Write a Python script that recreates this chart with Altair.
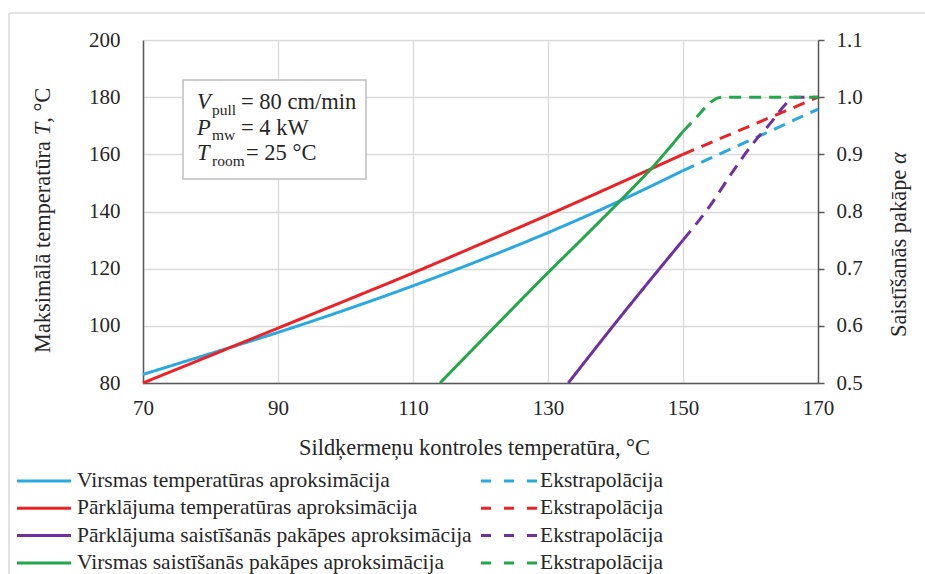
import altair as alt
import pandas as pd

FONT = "Liberation Serif"
TXT = "#262626"
AX = "#595959"
GRID = "#d9d9d9"

x_ticks = [70, 90, 110, 130, 150, 170]
temp_ticks = [80, 100, 120, 140, 160, 180, 200]
alpha_ticks = [0.5, 0.6, 0.7, 0.8, 0.9, 1.0, 1.1]

series_names = [
    "Virsmas temperatūras aproksimācija",
    "Pārklājuma temperatūras aproksimācija",
    "Pārklājuma saistīšanās pakāpes aproksimācija",
    "Virsmas saistīšanās pakāpes aproksimācija",
]
series_colors = ["#29a9e1", "#ec2227", "#7030a0", "#22a84b"]
extrap_label = "Ekstrapolācija"

# Surface temperature (left axis)
blue_solid_x = [70, 80, 90, 100, 110, 120, 130, 140, 150]
blue_solid_y = [83, 90.3, 97.7, 105.6, 114, 123, 132.6, 143, 154.3]
blue_dash_x = [150, 160, 170]
blue_dash_y = [154.3, 165, 175.8]
# Coating temperature (left axis)
red_solid_x = [70, 80, 90, 100, 110, 120, 130, 140, 150]
red_solid_y = [80, 89.6, 99.2, 108.8, 118.5, 128.6, 138.8, 149.3, 160]
red_dash_x = [150, 160, 170]
red_dash_y = [160, 170, 180]
# Coating degree of cure (right axis)
purple_solid_x = [133, 140, 150]
purple_solid_y = [0.5, 0.605, 0.75]
purple_dash_x = [150, 154, 157.5, 160.5, 163, 165, 166.5, 170]
purple_dash_y = [0.75, 0.81, 0.872, 0.921, 0.955, 0.985, 1.0, 1.0]
# Surface degree of cure (right axis)
green_solid_x = [114, 122, 130, 136, 141.3, 145.6, 150]
green_solid_y = [0.5, 0.597, 0.693, 0.763, 0.826, 0.879, 0.94]
green_dash_x = [150, 152, 154, 155, 156, 170]
green_dash_y = [0.94, 0.965, 0.99, 0.998, 1.0, 1.0]

left_title_parts = ["Maksimālā temperatūra", "T", ", °C"]
right_title_parts = ["Saistīšanās pakāpe", "α"]
x_title = "Sildķermeņu kontroles temperatūra, °C"


def frame(name, part, xs, ys):
    return pd.DataFrame({"x": xs, "y": ys, "series": name, "part": part,
                         "key": name + part})


temp_df = pd.concat([
    frame(series_names[0], "solid", blue_solid_x, blue_solid_y),
    frame(series_names[0], "dash", blue_dash_x, blue_dash_y),
    frame(series_names[1], "solid", red_solid_x, red_solid_y),
    frame(series_names[1], "dash", red_dash_x, red_dash_y),
])
alpha_df = pd.concat([
    frame(series_names[2], "solid", purple_solid_x, purple_solid_y),
    frame(series_names[2], "dash", purple_dash_x, purple_dash_y),
    frame(series_names[3], "solid", green_solid_x, green_solid_y),
    frame(series_names[3], "dash", green_dash_x, green_dash_y),
])

color = alt.Color("series:N", scale=alt.Scale(domain=series_names, range=series_colors), legend=None)
dash = alt.StrokeDash("part:N", scale=alt.Scale(domain=["solid", "dash"], range=[[1, 0], [12, 8]]), legend=None)

TICK_FS = 21
TITLE_FS = 22.4

x_axis = alt.Axis(values=x_ticks, grid=True, gridColor=GRID, gridWidth=1.3,
                  domainColor=AX, domainWidth=1.5, ticks=False,
                  labelFont=FONT, labelFontSize=TICK_FS, labelColor=TXT, labelPadding=14,
                  labelFlush=False, labelOverlap=False,
                  title=x_title, titleFont=FONT,
                  titleFontSize=TITLE_FS, titleFontWeight="normal", titleColor=TXT,
                  titleX=331, titleY=64, titleAlign="center", titleBaseline="middle")
x_enc = alt.X("x:Q", scale=alt.Scale(domain=[70, 170], nice=False, zero=False), axis=x_axis)

temp_layer = alt.Chart(temp_df).mark_line(strokeWidth=3, strokeCap="butt", interpolate="monotone").encode(
    x=x_enc,
    y=alt.Y("y:Q", scale=alt.Scale(domain=[80, 200], nice=False, zero=False),
            axis=alt.Axis(values=temp_ticks, grid=True, gridColor=GRID, gridWidth=1.3,
                          domainColor=AX, domainWidth=1.5, ticks=False,
                          labelFont=FONT, labelFontSize=TICK_FS, labelColor=TXT, labelPadding=23,
                          labelOverlap=False, title=None)),
    color=color, strokeDash=dash, detail="key:N",
)

alpha_layer = alt.Chart(alpha_df).mark_line(strokeWidth=3, strokeCap="butt", interpolate="monotone").encode(
    x=x_enc,
    y=alt.Y("y:Q", scale=alt.Scale(domain=[0.5, 1.1], nice=False, zero=False),
            axis=alt.Axis(orient="right", values=alpha_ticks, format=".1f", grid=False,
                          domainColor=AX, domainWidth=1.5, ticks=True, tickSize=6,
                          tickColor=AX, tickWidth=1.5,
                          labelFont=FONT, labelFontSize=TICK_FS, labelColor=TXT, labelPadding=12,
                          labelOverlap=False, title=None)),
    color=color, strokeDash=dash, detail="key:N",
)

one = pd.DataFrame({"a": [0]})
deco = []


def txt(t, px, py, fs, style="normal", align="left", baseline="alphabetic", angle=0):
    kw = dict(text=t, font=FONT, fontSize=fs, fontStyle=style, color=TXT,
              align=align, baseline=baseline)
    if angle:
        kw["angle"] = angle
    return alt.Chart(one).mark_text(**kw).encode(x=alt.value(px), y=alt.value(py))


# outer light frame
deco.append(alt.Chart(one).mark_rule(color="#d9d9d9", strokeWidth=1.5).encode(
    x=alt.value(-134), x2=alt.value(790), y=alt.value(-27)))
deco.append(alt.Chart(one).mark_rule(color="#d9d9d9", strokeWidth=1.5).encode(
    x=alt.value(-134), y=alt.value(-27), y2=alt.value(540)))

# left axis title (rotated, with italic T)
em = TITLE_FS
l_bottom = 313
deco.append(txt(left_title_parts[0], -100, l_bottom, TITLE_FS, baseline="middle", angle=270))
t_pos = l_bottom - 9.72 * em
deco.append(txt(left_title_parts[1], -100, t_pos, TITLE_FS, style="italic", baseline="middle", angle=270))
deco.append(txt(left_title_parts[2], -100, t_pos - 0.556 * em, TITLE_FS, baseline="middle", angle=270))

# right axis title (rotated, with italic alpha)
r_bottom = 205 + 92
deco.append(txt(right_title_parts[0], 756, r_bottom, TITLE_FS, baseline="middle", angle=270))
deco.append(txt(right_title_parts[1], 756, r_bottom - 7.72 * em, TITLE_FS, style="italic",
                baseline="middle", angle=270))

# annotation box
deco.append(alt.Chart(one).mark_rect(fill="white", stroke="#bfbfbf", strokeWidth=1.5).encode(
    x=alt.value(40), x2=alt.value(223), y=alt.value(40), y2=alt.value(139)))

ann_pieces = [
    ("V", 54, 69, 22.5, "italic"), ("pull", 69, 75, 15.5, "normal"), ("= 80 cm/min", 98, 69, 22.5, "normal"),
    ("P", 54, 95, 22.5, "italic"), ("mw", 69, 100, 15.5, "normal"), ("= 4 kW", 98, 95, 22.5, "normal"),
    ("T", 54, 120, 22.5, "italic"), ("room", 69, 126, 15.5, "normal"), ("= 25 °C", 103, 120, 22.5, "normal"),
]
for t, px, py, fs, st in ann_pieces:
    deco.append(txt(t, px, py, fs, style=st))

# legend
LEG_FS = 21.5
for i, (name, col) in enumerate(zip(series_names, series_colors)):
    yy = 441 + 27.3 * i
    deco.append(alt.Chart(one).mark_rule(color=col, strokeWidth=3).encode(
        x=alt.value(-126), x2=alt.value(-72), y=alt.value(yy)))
    deco.append(txt(name, -66, yy, LEG_FS, baseline="middle"))
    deco.append(alt.Chart(one).mark_rule(color=col, strokeWidth=3, strokeDash=[10, 13], strokeCap="butt").encode(
        x=alt.value(338), x2=alt.value(394), y=alt.value(yy)))
    deco.append(txt(extrap_label, 397, yy, LEG_FS, baseline="middle"))

chart = alt.layer(temp_layer, alpha_layer, *deco).resolve_scale(y="independent").properties(
    width=675, height=343,
    autosize=alt.AutoSizeParams(type="none"),
    padding={"left": 143, "top": 40, "right": 107, "bottom": 191},
    background="white",
).configure_view(stroke=None)

chart.save("out.html", embed_options={"renderer": "svg", "actions": False})
